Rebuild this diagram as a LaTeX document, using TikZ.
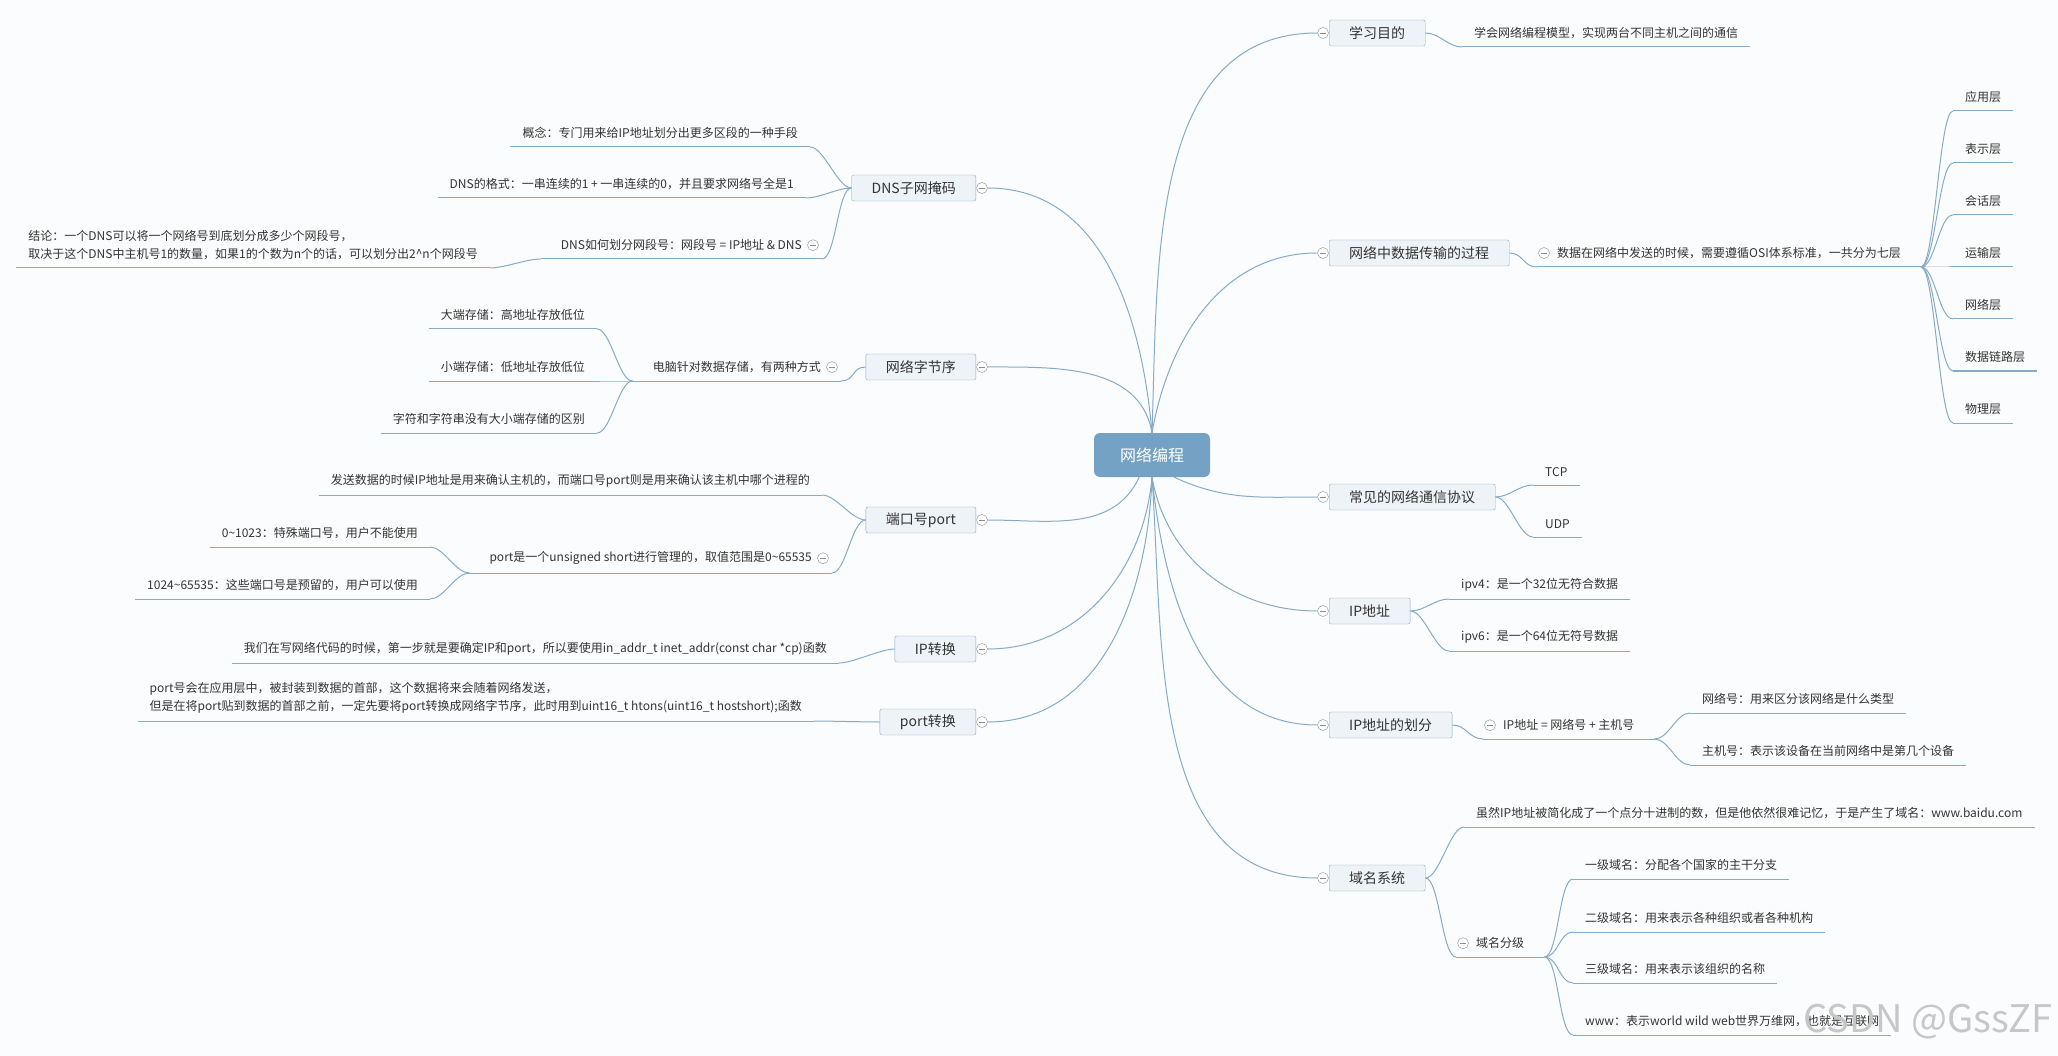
\documentclass[tikz,border=0pt]{standalone}
\usepackage{fontspec}
\setmainfont{Noto Sans CJK SC}
\usepackage{tikz}
\usetikzlibrary{positioning}
\definecolor{mapline}{HTML}{86ABC8}
\definecolor{topicfill}{HTML}{EEF3F8}
\definecolor{rootfill}{HTML}{74A2C4}
\definecolor{inkgray}{HTML}{333333}
\definecolor{foldgray}{HTML}{8C8C8C}
\definecolor{paper}{HTML}{FBFCFD}

\begin{document}
\begin{tikzpicture}[
  x=1pt,y=-1pt,
  font=\fontsize{12}{18}\selectfont,
  root/.style={fill=rootfill,text=white,rounded corners=6pt,minimum width=116pt,
               minimum height=44pt,font=\fontsize{16}{18}\selectfont},
  topic/.style={draw=mapline,fill=topicfill,rounded corners=2pt,minimum height=26pt,
                inner xsep=20pt,text=inkgray,font=\fontsize{14}{16}\selectfont},
  leaf/.style={text=inkgray,inner xsep=12pt,inner ysep=8pt,align=left,
               append after command={(\tikzlastnode.south west) edge[link] (\tikzlastnode.south east)}},
  leafc/.style={leaf,inner xsep=20pt},
  fold/.style={circle,draw=foldgray,fill=white,minimum size=11pt,inner sep=0pt,
               path picture={\draw[foldgray,line width=0.8pt]
                 ([xshift=-3pt]path picture bounding box.center) -- ([xshift=3pt]path picture bounding box.center);}},
  link/.style={draw=mapline,line width=1pt},
  rlink/.style={to path={.. controls ([xshift=#1]\tikztostart) and ([xshift=-#1]\tikztotarget) .. (\tikztotarget)}},
  rlink/.default=14pt,
  llink/.style={to path={.. controls ([xshift=-#1]\tikztostart) and ([xshift=#1]\tikztotarget) .. (\tikztotarget)}},
  llink/.default=14pt
]
\path[use as bounding box,fill=paper] (0,0) rectangle (2058,1056);

%------ centre -----------------------------------------------------------------
\node[root] (root) at (1152,455) {网络编程};

%------ right-hand topics ------------------------------------------------------
\node[topic,anchor=west] (goal)    at (1329,33)  {学习目的};
\node[topic,anchor=west] (flow)    at (1329,253) {网络中数据传输的过程};
\node[topic,anchor=west] (proto)   at (1329,497) {常见的网络通信协议};
\node[topic,anchor=west] (ipaddr)  at (1329,611) {IP地址};
\node[topic,anchor=west] (ipsplit) at (1329,725) {IP地址的划分};
\node[topic,anchor=west] (dnsys)   at (1329,878) {域名系统};

%------ left-hand topics -------------------------------------------------------
\node[topic,anchor=east] (subnet)   at (976,188) {DNS子网掩码};
\node[topic,anchor=east] (order)    at (976,367) {网络字节序};
\node[topic,anchor=east] (port)     at (976,520) {端口号port};
\node[topic,anchor=east] (ipconv)   at (976,649) {IP转换};
\node[topic,anchor=east] (portconv) at (976,722) {port转换};

%------ fold markers on the topics ---------------------------------------------
\node[fold] (goal-f)     at ([xshift=-6pt]goal.west) {};
\node[fold] (flow-f)     at ([xshift=-6pt]flow.west) {};
\node[fold] (proto-f)    at ([xshift=-6pt]proto.west) {};
\node[fold] (ipaddr-f)   at ([xshift=-6pt]ipaddr.west) {};
\node[fold] (ipsplit-f)  at ([xshift=-6pt]ipsplit.west) {};
\node[fold] (dnsys-f)    at ([xshift=-6pt]dnsys.west) {};
\node[fold] (subnet-f)   at ([xshift=6pt]subnet.east) {};
\node[fold] (order-f)    at ([xshift=6pt]order.east) {};
\node[fold] (port-f)     at ([xshift=6pt]port.east) {};
\node[fold] (ipconv-f)   at ([xshift=6pt]ipconv.east) {};
\node[fold] (portconv-f) at ([xshift=6pt]portconv.east) {};

%------ right-hand leaves ------------------------------------------------------
\node[leaf,anchor=south west]  (goalnote) at (1462,47)  {学会网络编程模型，实现两台不同主机之间的通信};
\node[leafc,anchor=south west] (osi)      at (1537,267) {数据在网络中发送的时候，需要遵循OSI体系标准，一共分为七层};
\node[leaf,anchor=south west]  (app)      at (1953,111) {应用层};
\node[leaf,anchor=south west]  (pres)     at (1953,163) {表示层};
\node[leaf,anchor=south west]  (sess)     at (1953,215) {会话层};
\node[leaf,anchor=south west]  (trans)    at (1953,267) {运输层};
\node[leaf,anchor=south west]  (netw)     at (1953,319) {网络层};
\node[leaf,anchor=south west]  (dlink)    at (1953,371) {数据链路层};
\node[leaf,anchor=south west]  (phys)     at (1953,423) {物理层};
\node[leaf,anchor=south west]  (tcp)      at (1533,485) {TCP};
\node[leaf,anchor=south west]  (udp)      at (1533,537) {UDP};
\node[leaf,anchor=south west]  (ipv4)     at (1449,599) {ipv4：是一个32位无符合数据};
\node[leaf,anchor=south west]  (ipv6)     at (1449,651) {ipv6：是一个64位无符号数据};
\node[leafc,anchor=south west] (ipeq)     at (1483,739) {IP地址 = 网络号 + 主机号};
\node[leaf,anchor=south west]  (netid)    at (1690,713) {网络号：用来区分该网络是什么类型};
\node[leaf,anchor=south west]  (hostid)   at (1690,765) {主机号：表示该设备在当前网络中是第几个设备};
\node[leaf,anchor=south west]  (baidu)    at (1464,827) {虽然IP地址被简化成了一个点分十进制的数，但是他依然很难记忆，于是产生了域名：www.baidu.com};
\node[leafc,anchor=south west] (levels)   at (1456,957) {域名分级};
\node[leaf,anchor=south west]  (lvone)    at (1573,879)  {一级域名：分配各个国家的主干分支};
\node[leaf,anchor=south west]  (lvtwo)    at (1573,932)  {二级域名：用来表示各种组织或者各种机构};
\node[leaf,anchor=south west]  (lvthree)  at (1573,983)  {三级域名：用来表示该组织的名称};
\node[leaf,anchor=south west]  (www)      at (1573,1035) {www：表示world wild web世界万维网，也就是互联网};

%------ left-hand leaves -------------------------------------------------------
\node[leaf,anchor=south east]  (concept)   at (810,147) {概念：专门用来给IP地址划分出更多区段的一种手段};
\node[leaf,anchor=south east]  (format)    at (806,198) {DNS的格式：一串连续的1 + 一串连续的0，并且要求网络号全是1};
\node[leafc,anchor=south east] (howto)     at (822,259) {DNS如何划分网段号：网段号 = IP地址 \& DNS};
\node[leaf,anchor=south east]  (result)    at (490,268) {结论：一个DNS可以将一个网络号到底划分成多少个网段号，\\取决于这个DNS中主机号1的数量，如果1的个数为n个的话，可以划分出2\textasciicircum n个网段号};
\node[leafc,anchor=south east] (store)     at (841,381) {电脑针对数据存储，有两种方式};
\node[leaf,anchor=south east]  (bigend)    at (597,329) {大端存储：高地址存放低位};
\node[leaf,anchor=south east]  (littleend) at (597,381) {小端存储：低地址存放低位};
\node[leaf,anchor=south east]  (strings)   at (597,433) {字符和字符串没有大小端存储的区别};
\node[leaf,anchor=south east]  (portwhy)   at (822,495) {发送数据的时候IP地址是用来确认主机的，而端口号port则是用来确认该主机中哪个进程的};
\node[leafc,anchor=south east] (range)     at (832,573) {port是一个unsigned short进行管理的，取值范围是0\textasciitilde 65535};
\node[leaf,anchor=south east]  (lowport)   at (430,547) {0\textasciitilde 1023：特殊端口号，用户不能使用};
\node[leaf,anchor=south east]  (highport)  at (430,599) {1024\textasciitilde 65535：这些端口号是预留的，用户可以使用};
\node[leaf,anchor=south east]  (inaddr)    at (839,663) {我们在写网络代码的时候，第一步就是要确定IP和port，所以要使用in\_addr\_t inet\_addr(const char *cp)函数};
\node[leaf,anchor=south east]  (htons)     at (814,721) {port号会在应用层中，被封装到数据的首部，这个数据将来会随着网络发送，\\但是在将port贴到数据的首部之前，一定先要将port转换成网络字节序，此时用到uint16\_t htons(uint16\_t hostshort);函数};

%------ fold markers on the leaves ---------------------------------------------
\node[fold] (osi-f)    at ([xshift=7pt]osi.west) {};
\node[fold] (ipeq-f)   at ([xshift=7pt]ipeq.west) {};
\node[fold] (levels-f) at ([xshift=7pt]levels.west) {};
\node[fold] (howto-f)  at ([xshift=-9pt]howto.east) {};
\node[fold] (store-f)  at ([xshift=-9pt]store.east) {};
\node[fold] (range-f)  at ([xshift=-9pt]range.east) {};

%------ root to topics ---------------------------------------------------------
\draw[link] (root.north) to[out=88,in=180] (goal-f.west);
\draw[link] (root.north) to[out=80,in=180] (flow-f.west);
\draw[link] (root.-45)   to[out=-25,in=180] (proto-f.west);
\draw[link] (root.south) to[out=-80,in=180] (ipaddr-f.west);
\draw[link] (root.south) to[out=-84,in=180] (ipsplit-f.west);
\draw[link] (root.south) to[out=-86,in=180] (dnsys-f.west);
\draw[link] (root.north) to[out=95,in=0]  (subnet-f.east);
\draw[link] (root.north) to[out=100,in=0] (order-f.east);
\draw[link] (root.-120)  to[out=-115,in=0] (port-f.east);
\draw[link] (root.south) to[out=-95,in=0] (ipconv-f.east);
\draw[link] (root.south) to[out=-92,in=0] (portconv-f.east);

%------ right-hand branches ----------------------------------------------------
\draw[link] (goal.east) to[rlink] (goalnote.south west);
\draw[link] (flow.east) to[rlink] (osi.south west);
\draw[link] (osi.south east) to[rlink] (app.south west);
\draw[link] (osi.south east) to[rlink] (pres.south west);
\draw[link] (osi.south east) to[rlink] (sess.south west);
\draw[link] (osi.south east) to[rlink] (trans.south west);
\draw[link] (osi.south east) to[rlink] (netw.south west);
\draw[link] (osi.south east) to[rlink] (dlink.south west);
\draw[link] (osi.south east) to[rlink] (phys.south west);
\draw[link] (proto.east) to[rlink] (tcp.south west);
\draw[link] (proto.east) to[rlink] (udp.south west);
\draw[link] (ipaddr.east) to[rlink] (ipv4.south west);
\draw[link] (ipaddr.east) to[rlink] (ipv6.south west);
\draw[link] (ipsplit.east) to[rlink] (ipeq.south west);
\draw[link] (ipeq.south east) to[rlink] (netid.south west);
\draw[link] (ipeq.south east) to[rlink] (hostid.south west);
\draw[link] (dnsys.east) to[rlink] (baidu.south west);
\draw[link] (dnsys.east) to[rlink] (levels.south west);
\draw[link] (levels.south east) to[rlink] (lvone.south west);
\draw[link] (levels.south east) to[rlink] (lvtwo.south west);
\draw[link] (levels.south east) to[rlink] (lvthree.south west);
\draw[link] (levels.south east) to[rlink] (www.south west);

%------ left-hand branches -----------------------------------------------------
\draw[link] (subnet.west) to[llink] (concept.south east);
\draw[link] (subnet.west) to[llink] (format.south east);
\draw[link] (subnet.west) to[llink] (howto.south east);
\draw[link] (howto.south west) to[llink] (result.south east);
\draw[link] (order.west) to[llink] (store.south east);
\draw[link] (store.south west) to[llink] (bigend.south east);
\draw[link] (store.south west) to[llink] (littleend.south east);
\draw[link] (store.south west) to[llink] (strings.south east);
\draw[link] (port.west) to[llink] (portwhy.south east);
\draw[link] (port.west) to[llink] (range.south east);
\draw[link] (range.south west) to[llink] (lowport.south east);
\draw[link] (range.south west) to[llink] (highport.south east);
\draw[link] (ipconv.west) to[llink] (inaddr.south east);
\draw[link] (portconv.west) to[llink] (htons.south east);

%------ watermark --------------------------------------------------------------
\node[text=black!22,font=\fontsize{38}{40}\selectfont] (mark) at (1928,1022) {CSDN @GssZF};
\end{tikzpicture}
\end{document}
